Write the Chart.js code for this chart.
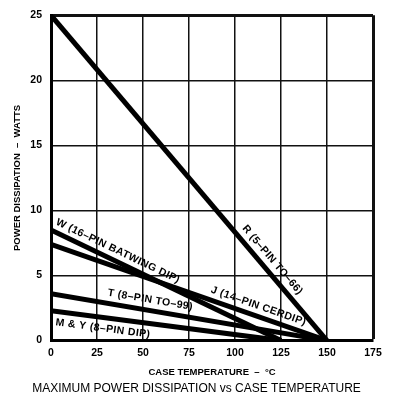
<!DOCTYPE html>
<html>
<head>
<meta charset="utf-8">
<script src="https://cdn.jsdelivr.net/npm/chart.js@4.4.1/dist/chart.umd.min.js"></script>
<style>
  html, body { margin: 0; padding: 0; background: #fff; }
  canvas { display: block; }
</style>
</head>
<body>
<canvas id="chart" width="393" height="396"></canvas>
<script>
// case temperature (degC) and power (W) end points for each package curve
const R_TEMPS = [0, 150];
const R_WATTS = [25, 0];
const W_TEMPS = [0, 125];
const W_WATTS = [8.5, 0];
const J_TEMPS = [0, 150];
const J_WATTS = [7.4, 0];
const T_TEMPS = [0, 150];
const T_WATTS = [3.6, 0];
const MY_TEMPS = [0, 125];
const MY_WATTS = [2.3, 0];

const SERIES_NAMES = ['R (5–PIN TO–66)', 'W (16–PIN BATWING DIP)', 'J (14–PIN CERDIP)', 'T (8–PIN TO–99)', 'M & Y (8–PIN DIP)'];
const X_TICKS = [0, 25, 50, 75, 100, 125, 150, 175];
const Y_TICKS = [0, 5, 10, 15, 20, 25];

const seriesTemps = [R_TEMPS, W_TEMPS, J_TEMPS, T_TEMPS, MY_TEMPS];
const seriesWatts = [R_WATTS, W_WATTS, J_WATTS, T_WATTS, MY_WATTS];

// where each label sits: temperature along the curve, pixel offset from it (+ = above)
const labelPlacement = [
  { at: 116, offset: 10.5 },
  { at: 34, offset: 10 },
  { at: 111, offset: 10 },
  { at: 53, offset: 10.5 },
  { at: 29, offset: -11 }
];

const FONT = "'Liberation Sans', Arial, sans-serif";

function toPoints(temps, watts) {
  return temps.map(function (t, i) {
    return { x: t, y: watts[i] };
  });
}

const lineLabels = {
  id: 'lineLabels',
  afterDatasetsDraw: function (chart) {
    const ctx = chart.ctx;
    const xs = chart.scales.x;
    const ys = chart.scales.y;
    ctx.save();
    ctx.fillStyle = '#000';
    ctx.font = 'bold 10.5px ' + FONT;
    ctx.letterSpacing = '0.4px';
    ctx.textAlign = 'center';
    ctx.textBaseline = 'middle';
    SERIES_NAMES.forEach(function (name, i) {
      const temps = seriesTemps[i];
      const watts = seriesWatts[i];
      const place = labelPlacement[i];
      const x0 = xs.getPixelForValue(temps[0]);
      const y0 = ys.getPixelForValue(watts[0]);
      const x1 = xs.getPixelForValue(temps[1]);
      const y1 = ys.getPixelForValue(watts[1]);
      const frac = (place.at - temps[0]) / (temps[1] - temps[0]);
      const w = watts[0] + frac * (watts[1] - watts[0]);
      const px = xs.getPixelForValue(place.at);
      const py = ys.getPixelForValue(w);
      const dx = x1 - x0;
      const dy = y1 - y0;
      const len = Math.sqrt(dx * dx + dy * dy);
      const nx = dy / len;
      const ny = -dx / len;
      ctx.save();
      ctx.translate(px + nx * place.offset, py + ny * place.offset);
      ctx.rotate(Math.atan2(dy, dx));
      ctx.fillText(name, 0, 0);
      ctx.restore();
    });
    ctx.restore();
  }
};

new Chart(document.getElementById('chart'), {
  type: 'line',
  data: {
    datasets: SERIES_NAMES.map(function (name, i) {
      return {
        label: name,
        data: toPoints(seriesTemps[i], seriesWatts[i]),
        borderColor: '#000',
        borderWidth: 5,
        pointRadius: 0,
        tension: 0,
        fill: false
      };
    })
  },
  options: {
    responsive: false,
    animation: false,
    devicePixelRatio: 1,
    layout: { padding: { top: 14, right: 0, left: 0, bottom: 0 } },
    plugins: {
      legend: { display: false },
      tooltip: { enabled: false },
      title: {
        display: true,
        position: 'bottom',
        text: 'MAXIMUM POWER DISSIPATION vs CASE TEMPERATURE',
        color: '#000',
        font: { family: FONT, size: 12, weight: 'normal' },
        padding: 0
      }
    },
    scales: {
      x: {
        type: 'linear',
        min: 0,
        max: 175,
        afterBuildTicks: function (scale) {
          scale.ticks = X_TICKS.map(function (v) { return { value: v }; });
        },
        afterFit: function (scale) { scale.height = 41; },
        ticks: {
          color: '#000',
          padding: 6,
          maxRotation: 0,
          font: { family: FONT, size: 10.5, weight: 'bold' }
        },
        grid: {
          color: '#111',
          drawTicks: false,
          lineWidth: function (c) {
            return c.tick && c.tick.value === 175 ? 3 : 1.5;
          }
        },
        border: { color: '#000', width: 3 },
        title: {
          display: true,
          text: 'CASE TEMPERATURE  –  °C',
          color: '#000',
          font: { family: FONT, size: 9.5, weight: 'bold' },
          padding: { top: 0, bottom: 4 }
        }
      },
      y: {
        min: 0,
        max: 25,
        afterBuildTicks: function (scale) {
          scale.ticks = Y_TICKS.map(function (v) { return { value: v }; });
        },
        afterFit: function (scale) { scale.width = 51; },
        ticks: {
          color: '#000',
          padding: 9,
          font: { family: FONT, size: 10.5, weight: 'bold' }
        },
        grid: {
          color: '#111',
          drawTicks: false,
          lineWidth: function (c) {
            return c.tick && c.tick.value === 25 ? 3 : 1.5;
          }
        },
        border: { color: '#000', width: 3 },
        title: {
          display: true,
          text: 'POWER DISSIPATION  –  WATTS',
          color: '#000',
          font: { family: FONT, size: 9.5, weight: 'bold' },
          padding: { top: 12, bottom: 0 }
        }
      },
      // empty right-hand axis that only reserves the margin beside the plot
      yRight: {
        position: 'right',
        display: true,
        afterFit: function (scale) { scale.width = 20; },
        ticks: { display: false },
        grid: { display: false, drawTicks: false },
        border: { display: false }
      }
    }
  },
  plugins: [lineLabels]
});
</script>
</body>
</html>
